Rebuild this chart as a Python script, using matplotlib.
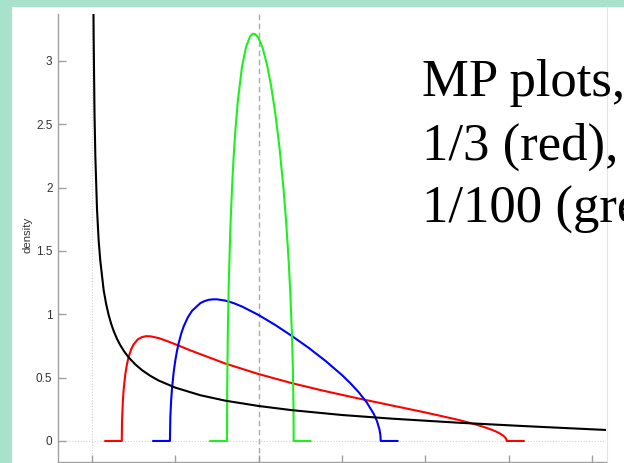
import matplotlib
matplotlib.use("Agg")
import matplotlib.pyplot as plt
from matplotlib.patches import Rectangle
from matplotlib.lines import Line2D

# ---- data ----
black_x = [0.005, 0.008, 0.01, 0.015, 0.02, 0.03, 0.04, 0.05, 0.07, 0.085, 0.1, 0.115, 0.13, 0.15,
           0.17, 0.195, 0.22, 0.26, 0.3, 0.35, 0.4, 0.5, 0.65, 0.8, 1.0, 1.2, 1.5, 1.8, 2.2, 2.6,
           3.0, 3.1]
black_y = [4.50, 3.555, 3.18, 2.59, 2.25, 1.83, 1.58, 1.42, 1.19, 1.080, 0.994, 0.925, 0.868, 0.806,
           0.755, 0.703, 0.660, 0.604, 0.559, 0.514, 0.477, 0.421, 0.361, 0.318, 0.276, 0.243, 0.205,
           0.176, 0.144, 0.117, 0.092, 0.086]

red_x = [0.08, 0.1786, 0.18, 0.185, 0.19, 0.2, 0.21, 0.22, 0.235, 0.25, 0.275, 0.3, 0.325, 0.35,
         0.4, 0.45, 0.5, 0.6, 0.8, 1.0, 1.2, 1.4, 1.6, 1.8, 2.0, 2.2, 2.3, 2.35, 2.4, 2.425, 2.45,
         2.47, 2.48, 2.486, 2.488, 2.59]
red_y = [0, 0, 0.149, 0.313, 0.406, 0.528, 0.608, 0.665, 0.724, 0.763, 0.802, 0.820, 0.827, 0.826,
         0.812, 0.789, 0.763, 0.710, 0.611, 0.528, 0.456, 0.393, 0.335, 0.280, 0.225, 0.166, 0.131,
         0.111, 0.088, 0.074, 0.057, 0.039, 0.026, 0.013, 0, 0]

blue_x = [0.3675, 0.4675, 0.47, 0.475, 0.48, 0.49, 0.5, 0.51, 0.52, 0.535, 0.55, 0.575, 0.6, 0.65,
          0.675, 0.7, 0.725, 0.75, 0.8, 0.85, 0.9, 1.0, 1.1, 1.2, 1.3, 1.4, 1.5, 1.55, 1.6, 1.65,
          1.69, 1.71, 1.725, 1.73, 1.7325, 1.8325]
blue_y = [0, 0, 0.189, 0.324, 0.414, 0.543, 0.637, 0.711, 0.772, 0.846, 0.904, 0.976, 1.027, 1.088,
          1.104, 1.114, 1.118, 1.118, 1.108, 1.088, 1.061, 0.994, 0.915, 0.828, 0.735, 0.633, 0.520,
          0.456, 0.385, 0.301, 0.215, 0.156, 0.089, 0.051, 0, 0]

green_x = [0.71, 0.81, 0.811, 0.815, 0.82, 0.83, 0.84, 0.85, 0.86, 0.875, 0.9, 0.925, 0.95, 0.965,
           0.98, 1.0, 1.025, 1.05, 1.075, 1.1, 1.125, 1.15, 1.165, 1.18, 1.19, 1.2, 1.205, 1.209,
           1.21, 1.31]
green_y = [0, 0, 0.392, 0.868, 1.212, 1.672, 1.996, 2.247, 2.448, 2.684, 2.954, 3.115, 3.196, 3.214,
           3.211, 3.179, 3.097, 2.970, 2.800, 2.584, 2.315, 1.977, 1.727, 1.421, 1.166, 0.828, 0.587,
           0.263, 0, 0]

yticks = [0, 0.5, 1, 1.5, 2, 2.5, 3]
ytick_labels = ["0", "0.5", "1", "1.5", "2", "2.5", "3"]
xticks = [0, 0.5, 1, 1.5, 2, 2.5, 3]
title_lines = ["MP plots,", "1/3 (red),", "1/100 (green)"]

W, H = 624, 463
fig = plt.figure(figsize=(W / 100, H / 100), dpi=100)
fig.patch.set_facecolor("#A9E2CB")

# white slide panel (behind the axes)
fig.patches.append(Rectangle((12 / W, 0), 1, 1 - 7 / H, transform=fig.transFigure,
                             facecolor="white", edgecolor="none", zorder=-10))
fig.lines.append(Line2D([607 / W, 607 / W], [0, 1 - 7 / H], transform=fig.transFigure,
                        color="#e4e4e4", lw=0.8, zorder=-5))

ax = fig.add_axes([58 / W, 1 / H, 548 / W, 448 / H])
ax.set_facecolor("none")
ax.set_xlim(-0.204, 3.084)
ax.set_ylim(-0.166, 3.37)

ax.axvline(0, color="#cfcfcf", lw=0.8, ls=(0, (1, 1.5)), zorder=1)
ax.axhline(0, color="#cfcfcf", lw=0.8, ls=(0, (1, 1.5)), zorder=1)
ax.axvline(1, color="#ababab", lw=1.0, ls=(0, (4, 2.5)), zorder=1)

lw = 1.5
ax.plot(red_x, red_y, color="#ff0000", lw=lw, zorder=3)
ax.plot(blue_x, blue_y, color="#0000ff", lw=lw, zorder=3)
ax.plot(green_x, green_y, color="#1ef01e", lw=lw, zorder=3)
ax.plot(black_x, black_y, color="#000000", lw=lw, zorder=4)

for s in ["top", "right"]:
    ax.spines[s].set_visible(False)
for s in ["left", "bottom"]:
    ax.spines[s].set_color("#a0a0a0")
    ax.spines[s].set_linewidth(1.0)

ax.set_yticks(yticks)
ax.set_yticklabels(ytick_labels)
ax.set_xticks(xticks)
ax.tick_params(axis="both", direction="in", color="#a0a0a0", width=1.0,
               labelsize=8.5, labelcolor="#333333", pad=4)
ax.tick_params(axis="y", length=6)
ax.tick_params(axis="x", length=5, labelbottom=False)
for t in ax.get_yticklabels():
    t.set_fontfamily("Liberation Sans")

ax.set_ylabel("density", fontsize=8.2, color="#333333", family="Liberation Sans")
ax.yaxis.set_label_coords(-0.046, 0.507)

for i, line in enumerate(title_lines):
    fig.text(422 / W, 1 - (96 + 63.5 * i) / H, line, fontsize=38,
             family="Liberation Serif", color="black", ha="left", va="baseline")

fig.savefig("out.png", dpi=100, facecolor=fig.get_facecolor())
